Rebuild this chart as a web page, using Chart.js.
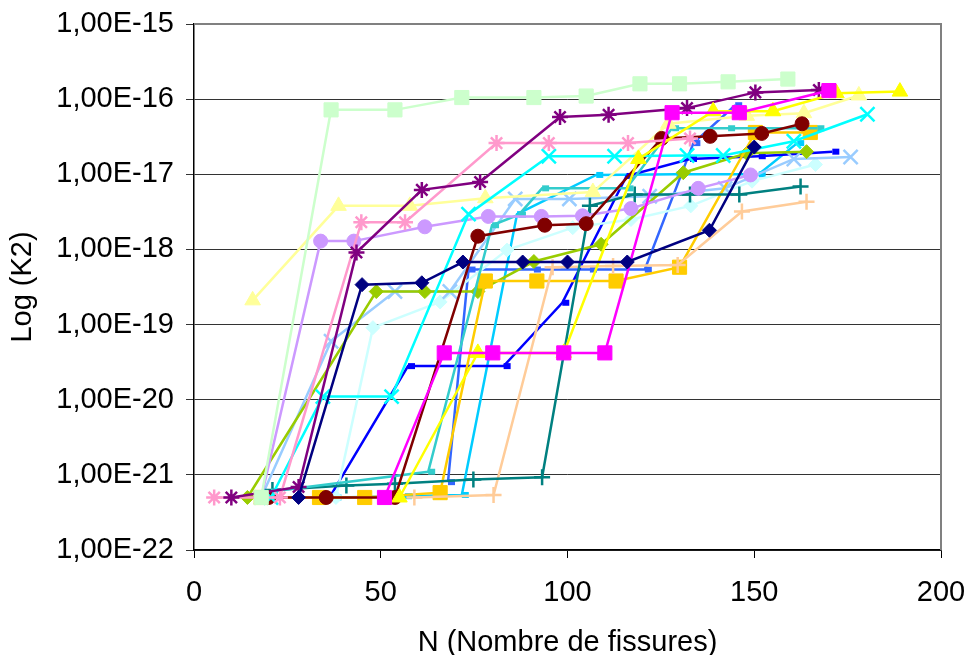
<!DOCTYPE html>
<html>
<head>
<meta charset="utf-8">
<script src="https://cdn.jsdelivr.net/npm/chart.js@4"></script>
<style>
  html, body { margin: 0; padding: 0; background: #fff; }
  #myChart { display: block; }
</style>
</head>
<body>
<canvas id="myChart" width="968" height="655"></canvas>
<script>
// x = N (nombre de fissures), y = K2 (log scale)
const xTicks = [0, 50, 100, 150, 200];
const yTicks = [1e-22, 1e-21, 1e-20, 1e-19, 1e-18, 1e-17, 1e-16, 1e-15];

const navyN = [28, 45, 61, 72, 88, 100, 116, 138, 150];
const navyK = [5e-22, 3.4e-19, 3.6e-19, 6.8e-19, 6.8e-19, 6.8e-19, 6.8e-19, 1.8e-18, 2.3e-17];

const magentaN = [51, 67, 80, 99, 110, 128, 146, 170];
const magentaK = [5e-22, 4.2e-20, 4.2e-20, 4.2e-20, 4.2e-20, 6.6e-17, 6.6e-17, 1.3e-16];

const yellowN = [55, 76, 99, 119, 139, 155, 172, 189];
const yellowK = [5e-22, 4.2e-20, 4.2e-20, 1.6e-17, 6.9e-17, 6.9e-17, 1.2e-16, 1.26e-16];

const mintN = [18, 36.7, 53.8, 71.7, 91, 105, 119.4, 130, 143, 159];
const mintK = [5e-22, 7.2e-17, 7.2e-17, 1.05e-16, 1.05e-16, 1.1e-16, 1.6e-16, 1.6e-16, 1.7e-16, 1.85e-16];

const purpleN = [10, 28, 43.5, 61, 76.6, 98, 111, 132, 150.3, 167.3];
const purpleK = [5e-22, 6.9e-22, 9.1e-19, 6.2e-18, 7.9e-18, 5.8e-17, 6.2e-17, 7.6e-17, 1.23e-16, 1.32e-16];

const pinkN = [5.4, 23, 44.8, 56.5, 81, 95, 116.2, 132.8];
const pinkK = [5e-22, 5e-22, 2.3e-18, 2.3e-18, 2.6e-17, 2.6e-17, 2.6e-17, 3.0e-17];

const cyanN = [20.6, 34.5, 52.9, 73.5, 95, 112.6, 132, 141.7, 160.6, 180.3];
const cyanK = [5e-22, 1.1e-20, 1.1e-20, 2.95e-18, 1.74e-17, 1.74e-17, 1.78e-17, 1.78e-17, 2.75e-17, 6.3e-17];

const darkRedN = [20, 35.4, 53.8, 76, 93.9, 105, 125.2, 138.2, 152, 162.8];
const darkRedK = [5e-22, 5e-22, 5e-22, 1.5e-18, 2.1e-18, 2.2e-18, 3.0e-17, 3.2e-17, 3.5e-17, 4.7e-17];

const lavenderN = [18, 33.9, 42.8, 61.8, 78.8, 93, 104, 117, 135, 149];
const lavenderK = [5e-22, 1.29e-18, 1.29e-18, 2.0e-18, 2.75e-18, 2.75e-18, 2.8e-18, 3.5e-18, 6.5e-18, 9.8e-18];

const paleYellowN = [15.7, 38.7, 57.8, 78, 106.8, 127, 148, 163.3, 178];
const paleYellowK = [2.1e-19, 3.8e-18, 3.8e-18, 4.8e-18, 5.8e-18, 4.7e-17, 6.0e-17, 6.5e-17, 1.12e-16];

const tealN = [20.6, 62.7, 79.8, 87, 93.2, 115.8, 128, 143, 166.9];
const tealK = [6e-22, 1.1e-21, 2.1e-18, 2.9e-18, 6.5e-18, 6.5e-18, 4.1e-17, 4.1e-17, 4.1e-17];

const darkTealN = [21, 40.8, 53.8, 74.8, 93.2, 106, 118, 132.8, 146, 162.4];
const darkTealK = [6.3e-22, 7.2e-22, 7.6e-22, 8.7e-22, 9.3e-22, 3.8e-18, 5.4e-18, 5.4e-18, 5.4e-18, 6.9e-18];

const peachN = [59, 80.2, 96, 112.2, 129.5, 146.7, 164];
const peachK = [5e-22, 5.4e-22, 5.8e-19, 6.0e-19, 6.2e-19, 3.2e-18, 4.3e-18];

const goldN = [18, 33.6, 45.7, 65.9, 78, 91.8, 113, 130, 150.3, 165];
const goldK = [5e-22, 5e-22, 5e-22, 5.8e-22, 3.8e-19, 3.8e-19, 3.8e-19, 5.8e-19, 3.6e-17, 3.6e-17];

const limeN = [14.3, 48.8, 61.8, 76, 91, 109, 131, 148, 164];
const limeK = [5e-22, 2.75e-19, 2.75e-19, 2.75e-19, 6.9e-19, 1.17e-18, 1.05e-17, 1.9e-17, 2.0e-17];

const lightBlueN = [18, 36.7, 53.8, 68.5, 86, 100.5, 122, 142.2, 160.6, 175.8];
const lightBlueK = [5e-22, 6.0e-20, 2.75e-19, 2.75e-19, 4.7e-18, 4.7e-18, 5.1e-18, 6.5e-18, 1.6e-17, 1.7e-17];

const iceN = [38, 47.9, 65.9, 83.8, 101.4, 117, 133, 149.4, 166.4];
const iceK = [5e-22, 9.1e-20, 2.0e-19, 9.8e-19, 1.95e-18, 2.5e-18, 3.8e-18, 8.1e-18, 1.35e-17];

const blueN = [36.7, 57.3, 82.9, 98.6, 115.8, 132.8, 151.2, 170.9];
const blueK = [5.4e-22, 2.8e-20, 2.8e-20, 1.95e-19, 9.5e-18, 1.6e-17, 1.74e-17, 2.0e-17];

const royalN = [68, 73.5, 91, 106, 120.7, 133.7, 144.9];
const royalK = [8e-22, 5.4e-19, 5.4e-19, 5.4e-19, 5.4e-19, 2.6e-17, 8.3e-17];

const skyN = [37.6, 56.5, 71.7, 86.5, 107.7, 129.2, 151.2, 161.5];
const skyK = [5e-22, 5.2e-22, 5.4e-22, 2.95e-18, 9.8e-18, 1.0e-17, 1.0e-17, 2.6e-17];

function pts(xs, ys) {
  return xs.map((x, i) => ({ x: x, y: ys[i] }));
}

// marker size/width per point style
function serie(xs, ys, color, style) {
  let r = 7, bw = 1;
  if (style === 'rect') r = 10;
  if (style === 'triangle') r = 9;
  if (style === 'star' || style === 'cross') { r = 8; bw = 2.5; }
  if (style === 'crossRot') { r = 10; bw = 2.5; }
  if (style === 'dash') { r = 7; bw = 6; }
  return {
    data: pts(xs, ys),
    borderColor: color,
    backgroundColor: color,
    pointBackgroundColor: color,
    pointBorderColor: color,
    pointStyle: style,
    pointRadius: r,
    pointBorderWidth: bw,
    borderWidth: 2.5,
    tension: 0,
  };
}

const datasets = [
  serie(navyN, navyK, '#000080', 'rectRot'),
  serie(magentaN, magentaK, '#FF00FF', 'rect'),
  serie(yellowN, yellowK, '#FFFF00', 'triangle'),
  serie(mintN, mintK, '#CCFFCC', 'rect'),
  serie(purpleN, purpleK, '#800080', 'star'),
  serie(pinkN, pinkK, '#FF99CC', 'star'),
  serie(cyanN, cyanK, '#00FFFF', 'crossRot'),
  serie(darkRedN, darkRedK, '#800000', 'circle'),
  serie(lavenderN, lavenderK, '#CC99FF', 'circle'),
  serie(paleYellowN, paleYellowK, '#FFFF99', 'triangle'),
  serie(tealN, tealK, '#33CCCC', 'dash'),
  serie(darkTealN, darkTealK, '#008080', 'cross'),
  serie(peachN, peachK, '#FFCC99', 'cross'),
  serie(goldN, goldK, '#FFCC00', 'rect'),
  serie(limeN, limeK, '#99CC00', 'rectRot'),
  serie(lightBlueN, lightBlueK, '#99CCFF', 'crossRot'),
  serie(iceN, iceK, '#CCFFFF', 'rectRot'),
  serie(blueN, blueK, '#0000FF', 'dash'),
  serie(royalN, royalK, '#3366FF', 'dash'),
  serie(skyN, skyK, '#00CCFF', 'dash'),
];

const font = { family: "'Liberation Sans', Arial, sans-serif", size: 29, lineHeight: 1 };

// gray frame on top and right like the excel plot area
const frame = {
  id: 'frame',
  afterDraw(chart) {
    const a = chart.chartArea, ctx = chart.ctx;
    ctx.save();
    ctx.strokeStyle = '#808080';
    ctx.lineWidth = 2;
    ctx.beginPath();
    ctx.moveTo(a.left, a.top);
    ctx.lineTo(a.right, a.top);
    ctx.lineTo(a.right, a.bottom);
    ctx.stroke();
    ctx.restore();
  }
};

const config = {
  type: 'line',
  data: { datasets: datasets },
  options: {
    responsive: false,
    animation: false,
    layout: { padding: { top: 24, right: 27, left: 0, bottom: 0 } },
    scales: {
      x: {
        type: 'linear',
        min: 0,
        max: 200,
        afterBuildTicks: (scale) => { scale.ticks = xTicks.map(v => ({ value: v })); },
        afterFit: (scale) => {
          scale.height = 105;
          scale.paddingLeft = 0;
          scale.paddingRight = 0;
        },
        grid: { drawOnChartArea: false, drawTicks: true, tickLength: 8, color: '#000' },
        border: { color: '#000', width: 1.5 },
        ticks: { color: '#000', font: font, padding: 20, maxRotation: 0 },
        title: { display: true, text: 'N (Nombre de fissures)', color: '#000', font: font, padding: { top: 0, bottom: -2 } },
      },
      y: {
        type: 'logarithmic',
        min: 1e-22,
        max: 1e-15,
        afterBuildTicks: (scale) => { scale.ticks = yTicks.map(v => ({ value: v })); },
        afterFit: (scale) => {
          scale.width = 194;
          scale.paddingTop = 0;
          scale.paddingBottom = 0;
        },
        grid: { color: '#333', lineWidth: 1, tickLength: 8 },
        border: { color: '#000', width: 1.5 },
        ticks: {
          color: '#000',
          font: font,
          padding: 12,
          callback: function (v) {
            const e = Math.round(Math.log10(v));
            return '1,00E' + (e < 0 ? '-' : '+') + String(Math.abs(e)).padStart(2, '0');
          },
        },
        title: { display: true, text: 'Log (K2)', color: '#000', font: font, padding: { top: 8, bottom: 0 } },
      },
    },
    plugins: {
      legend: { display: false },
      tooltip: { enabled: false },
    },
  },
  plugins: [frame],
};

const myChart = new Chart(document.getElementById('myChart'), config);
</script>
</body>
</html>
